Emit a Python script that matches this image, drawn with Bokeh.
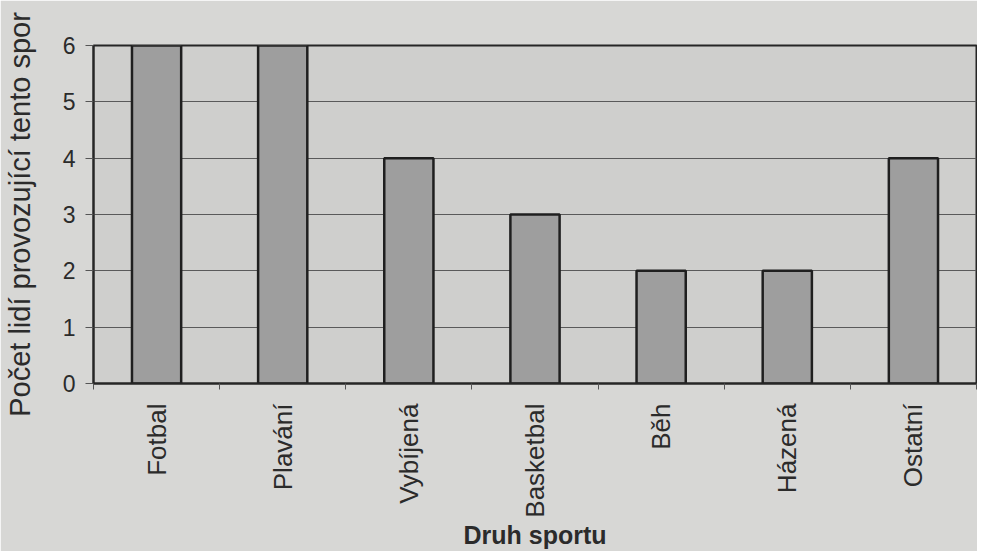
import math
from bokeh.plotting import figure
from bokeh.models import FixedTicker, Range1d, ColumnDataSource
from bokeh.embed import file_html
from bokeh.resources import INLINE

# ---- data ----
categories = ["Fotbal", "Plavání", "Vybíjená", "Basketbal", "Běh", "Házená", "Ostatní"]
counts = [6, 6, 4, 3, 2, 2, 4]
y_ticks = [0, 1, 2, 3, 4, 5, 6]
x_title = "Druh sportu"
y_title = "Počet lidí provozující tento spor"

n = len(categories)
centers = [i + 0.5 for i in range(n)]
bounds = list(range(n + 1))
src = ColumnDataSource(dict(x=centers, top=counts, name=categories))

FONT = "Liberation Sans"
TEXT = "#2b2b2b"

p = figure(width=977, height=551, output_backend="svg", toolbar_location=None,
           x_range=Range1d(0, n), y_range=Range1d(0, max(y_ticks)),
           min_border_left=20, min_border_top=45, min_border_right=1, min_border_bottom=0)

p.background_fill_color = "#cfcfcd"
p.border_fill_color = "#d7d7d5"
p.outline_line_color = "#262626"
p.outline_line_width = 2

p.vbar(x="x", top="top", width=0.39, bottom=0, source=src,
       fill_color="#9e9e9e", line_color="#1f1f1f", line_width=2.5)

# x axis
xa = p.xaxis[0]
xa.ticker = FixedTicker(ticks=centers, minor_ticks=bounds)
xa.major_label_overrides = {c: name for c, name in zip(centers, categories)}
xa.major_label_orientation = math.pi / 2
xa.major_tick_out = 0
xa.major_tick_in = 0
xa.minor_tick_out = 6
xa.minor_tick_in = 0
xa.minor_tick_line_color = "#555555"
xa.axis_line_color = "#262626"
xa.axis_line_width = 2
xa.major_label_text_font = FONT
xa.major_label_text_font_size = "26px"
xa.major_label_text_color = TEXT
xa.major_label_standoff = 14
xa.axis_label = x_title
xa.axis_label_text_font = FONT
xa.axis_label_text_font_size = "25px"
xa.axis_label_text_font_style = "bold"
xa.axis_label_text_color = TEXT
xa.axis_label_standoff = 0

# y axis
ya = p.yaxis[0]
ya.ticker = FixedTicker(ticks=y_ticks)
ya.major_tick_out = 8
ya.major_tick_in = 0
ya.minor_tick_out = 0
ya.minor_tick_in = 0
ya.major_tick_line_color = "#555555"
ya.axis_line_color = "#262626"
ya.axis_line_width = 2
ya.major_label_text_font = FONT
ya.major_label_text_font_size = "23px"
ya.major_label_text_color = TEXT
ya.major_label_standoff = 10
ya.axis_label = y_title
ya.axis_label_text_font = FONT
ya.axis_label_text_font_size = "29px"
ya.axis_label_text_font_style = "normal"
ya.axis_label_text_color = TEXT
ya.axis_label_standoff = 24

p.xgrid.grid_line_color = None
p.ygrid.ticker = FixedTicker(ticks=y_ticks)
p.ygrid.grid_line_color = "#5a5a5a"
p.ygrid.grid_line_width = 1.2

open("out.html", "w").write(file_html(p, INLINE))
